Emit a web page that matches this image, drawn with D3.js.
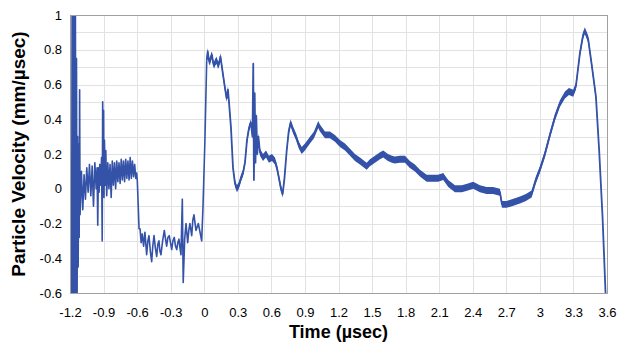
<!DOCTYPE html>
<html>
<head>
<meta charset="utf-8">
<script src="https://cdn.jsdelivr.net/npm/d3@7"></script>
<style>
  body { margin: 0; background: #fff; }
  text { font-family: "Liberation Sans", Arial, sans-serif; fill: #000; }
</style>
</head>
<body>
<div id="chart"></div>
<script>
// Values

// Pre-shock part of the trace: thin line with visible ringing
const preTime = [
  -1.200, -1.192, -1.186, -1.181, -1.177, -1.172, -1.167, -1.162, -1.157, -1.152,
  -1.147, -1.142, -1.137, -1.132, -1.127, -1.122, -1.118, -1.114, -1.110, -1.098,
  -1.086, -1.074, -1.062, -1.050, -1.038, -1.026, -1.014, -1.002, -0.990, -0.978,
  -0.966, -0.958, -0.952, -0.946, -0.940, -0.934, -0.926, -0.918, -0.912, -0.908,
  -0.904, -0.900, -0.896, -0.892, -0.886, -0.880, -0.872, -0.862, -0.852, -0.842,
  -0.832, -0.822, -0.812, -0.802, -0.792, -0.782, -0.772, -0.762, -0.752, -0.742,
  -0.732, -0.722, -0.712, -0.702, -0.692, -0.682, -0.672, -0.662, -0.652, -0.642,
  -0.632, -0.622, -0.612, -0.604, -0.598, -0.590, -0.583, -0.574, -0.564, -0.554,
  -0.542, -0.530, -0.515, -0.504, -0.494, -0.482, -0.470, -0.460, -0.449, -0.437,
  -0.425, -0.415, -0.405, -0.396, -0.387, -0.372, -0.357, -0.346, -0.336, -0.325,
  -0.313, -0.302, -0.291, -0.280, -0.268, -0.257, -0.246, -0.236, -0.226, -0.217,
  -0.208, -0.196, -0.188, -0.175, -0.163, -0.148, -0.138, -0.128, -0.112, -0.102,
  -0.092, -0.074, -0.053, -0.038, -0.023, -0.011, 0.006, 0.022
];
const preVel = [
   0.00, -0.04, -0.70,  1.10, -0.70,  1.10, -0.70,  1.10, -0.70,  1.10,
  -0.70,  0.75, -0.70,  0.30, -0.45,  0.26, -0.28,  0.57, -0.15,  0.10,
  -0.12,  0.08, -0.06,  0.12, -0.02,  0.14, -0.04,  0.13, -0.10,  0.15,
   0.00,  0.12, -0.21,  0.12, -0.02,  0.14,  0.02,  0.18, -0.30,  0.50,
   0.20,  0.45, -0.05,  0.28,  0.02,  0.22, -0.04,  0.15,  0.00,  0.14,
  -0.05,  0.16,  0.02,  0.15,  0.00,  0.16,  0.04,  0.15,  0.03,  0.17,
   0.05,  0.16,  0.04,  0.17,  0.06,  0.16,  0.05,  0.18,  0.06,  0.16,
   0.07,  0.14,  0.06,  0.09,  0.04, -0.10, -0.23, -0.23, -0.31, -0.26,
  -0.33, -0.25, -0.38, -0.30, -0.27, -0.36, -0.42, -0.33, -0.27, -0.34,
  -0.39, -0.32, -0.30, -0.36, -0.38, -0.30, -0.24, -0.29, -0.33, -0.28,
  -0.27, -0.31, -0.35, -0.30, -0.28, -0.33, -0.35, -0.31, -0.29, -0.34,
  -0.38, -0.06, -0.54, -0.29, -0.20, -0.31, -0.24, -0.20, -0.27, -0.18,
  -0.15, -0.24, -0.20, -0.25, -0.30, -0.10,  0.28,  0.74
];

// Post-shock part: noisy band around a smoother trace
const postTime = [
  0.022, 0.031, 0.041, 0.051, 0.060, 0.069, 0.078, 0.087, 0.099, 0.111,
  0.122, 0.132, 0.145, 0.156, 0.167, 0.185, 0.200, 0.212, 0.221, 0.239,
  0.257, 0.275, 0.292, 0.310, 0.328, 0.346, 0.364, 0.382, 0.400, 0.417,
  0.431, 0.438, 0.444, 0.451, 0.458, 0.465, 0.474, 0.484, 0.498, 0.525,
  0.552, 0.578, 0.605, 0.632, 0.650, 0.668, 0.686, 0.701, 0.717, 0.737,
  0.755, 0.772, 0.793, 0.820, 0.846, 0.871, 0.900, 0.945, 0.981, 1.019,
  1.034, 1.079, 1.123, 1.168, 1.213, 1.258, 1.303, 1.347, 1.392, 1.452,
  1.481, 1.526, 1.571, 1.600, 1.642, 1.678, 1.704, 1.749, 1.794, 1.838,
  1.883, 1.928, 1.988, 2.035, 2.091, 2.136, 2.181, 2.241, 2.303, 2.357,
  2.404, 2.464, 2.524, 2.581, 2.643, 2.661, 2.703, 2.750, 2.822, 2.875,
  2.926, 2.964, 3.000, 3.045, 3.090, 3.134, 3.179, 3.224, 3.260, 3.298,
  3.322, 3.358, 3.385, 3.402, 3.432, 3.462, 3.501, 3.530, 3.560, 3.587,
  3.594
];
const postVel = [
  0.74, 0.79, 0.74, 0.73, 0.76, 0.77, 0.73, 0.71, 0.73, 0.74,
  0.71, 0.72, 0.76, 0.71, 0.66, 0.58, 0.52, 0.57, 0.50, 0.35,
  0.12, 0.03, 0.00, 0.02, 0.06, 0.09, 0.15, 0.28, 0.35, 0.38,
  0.30, 0.72, 0.05, 0.55, 0.15, 0.42, 0.20, 0.30, 0.21, 0.18,
  0.20, 0.17, 0.18, 0.16, 0.12, 0.06, 0.00, -0.03, 0.06, 0.22,
  0.33, 0.38, 0.34, 0.30, 0.25, 0.22, 0.24, 0.28, 0.31, 0.37,
  0.35, 0.31, 0.31, 0.29, 0.26, 0.24, 0.21, 0.18, 0.16, 0.13,
  0.15, 0.17, 0.19, 0.20, 0.18, 0.17, 0.165, 0.17, 0.17, 0.14,
  0.12, 0.09, 0.06, 0.06, 0.06, 0.07, 0.03, 0.00, 0.00, 0.01,
  0.02, 0.00, -0.01, -0.01, -0.02, -0.09, -0.09, -0.08, -0.065, -0.05,
  -0.03, 0.05, 0.11, 0.20, 0.31, 0.41, 0.49, 0.54, 0.56, 0.55,
  0.59, 0.78, 0.88, 0.91, 0.86, 0.72, 0.53, 0.22, -0.16, -0.60,
  -0.70
];
// half-width of the noise band on the post-shock trace (mm/µsec)
const noiseHalfWidth = 0.02;

const xTicks = [-1.2, -0.9, -0.6, -0.3, 0, 0.3, 0.6, 0.9, 1.2, 1.5, 1.8, 2.1, 2.4, 2.7, 3, 3.3, 3.6];
const yTicks = [-0.6, -0.4, -0.2, 0, 0.2, 0.4, 0.6, 0.8, 1];
const yGrid = d3.range(-6, 11).map(d => d / 10);

const xTitle = 'Time (µsec)';
const yTitle = 'Particle Velocity (mm/µsec)';

// Set the dimensions and margins of the graph
const margin = {top: 15, right: 11, bottom: 50, left: 70};
const width = 618 - margin.left - margin.right;
const height = 343 - margin.top - margin.bottom;
const lineColor = '#3352a8';

const svg = d3.select('#chart')
  .append('svg')
  .attr('width', 618)
  .attr('height', 343);

const g = svg.append('g')
  .attr('transform', 'translate(' + margin.left + ',' + margin.top + ')');

const x = d3.scaleLinear().domain([-1.2, 3.6]).range([0, width]);
const y = d3.scaleLinear().domain([-0.6, 1]).range([height, 0]);

// Grid lines
g.append('g')
  .selectAll('line')
  .data(yGrid)
  .enter()
  .append('line')
  .attr('x1', 0)
  .attr('x2', width)
  .attr('y1', d => Math.round(y(d)) + 0.5)
  .attr('y2', d => Math.round(y(d)) + 0.5)
  .attr('stroke', '#e2e2e2');

g.append('g')
  .selectAll('line')
  .data(xTicks)
  .enter()
  .append('line')
  .attr('y1', 0)
  .attr('y2', height)
  .attr('x1', d => Math.round(x(d)) + 0.5)
  .attr('x2', d => Math.round(x(d)) + 0.5)
  .attr('stroke', '#e2e2e2');

// Axes (labels only, no tick marks)
const fmt = d => String(+d.toFixed(1));

const gX = g.append('g')
  .attr('transform', 'translate(0,' + height + ')')
  .call(d3.axisBottom(x).tickValues(xTicks).tickFormat(fmt).tickSize(0).tickPadding(15));

const gY = g.append('g')
  .call(d3.axisLeft(y).tickValues(yTicks).tickFormat(fmt).tickSize(0).tickPadding(8));

[gX, gY].forEach(a => {
  a.select('.domain').remove();
  a.selectAll('text')
    .style('font-family', '"Liberation Sans", Arial, sans-serif')
    .style('font-size', '13px')
    .attr('fill', '#000');
});

// Data
svg.append('clipPath')
  .attr('id', 'plot-clip')
  .append('rect')
  .attr('width', width)
  .attr('height', height);

const plot = g.append('g').attr('clip-path', 'url(#plot-clip)');

const pre = preTime.map((t, i) => ({t: t, v: preVel[i]}));
const post = postTime.map((t, i) => ({t: t, v: postVel[i]}));

plot.append('path')
  .datum(pre)
  .attr('fill', 'none')
  .attr('stroke', lineColor)
  .attr('stroke-width', 1.6)
  .attr('stroke-linejoin', 'round')
  .attr('d', d3.line().x(d => x(d.t)).y(d => y(d.v)));

plot.append('path')
  .datum(post)
  .attr('fill', lineColor)
  .attr('d', d3.area()
    .x(d => x(d.t))
    .y0(d => y(d.v - noiseHalfWidth))
    .y1(d => y(d.v + noiseHalfWidth)));

plot.append('path')
  .datum(post)
  .attr('fill', 'none')
  .attr('stroke', lineColor)
  .attr('stroke-width', 1.8)
  .attr('stroke-linejoin', 'round')
  .attr('d', d3.line().x(d => x(d.t)).y(d => y(d.v)));

// Plot frame
g.append('rect')
  .attr('x', 0.5)
  .attr('y', 0.5)
  .attr('width', width)
  .attr('height', height)
  .attr('fill', 'none')
  .attr('stroke', '#a0a0a0');

// Axis titles
svg.append('text')
  .attr('x', margin.left + width / 2)
  .attr('y', 338)
  .attr('text-anchor', 'middle')
  .style('font-size', '18px')
  .style('font-weight', 'bold')
  .text(xTitle);

svg.append('text')
  .attr('transform', 'translate(25,' + (margin.top + height / 2) + ') rotate(-90)')
  .attr('text-anchor', 'middle')
  .style('font-size', '19px')
  .style('font-weight', 'bold')
  .text(yTitle);
</script>
</body>
</html>
